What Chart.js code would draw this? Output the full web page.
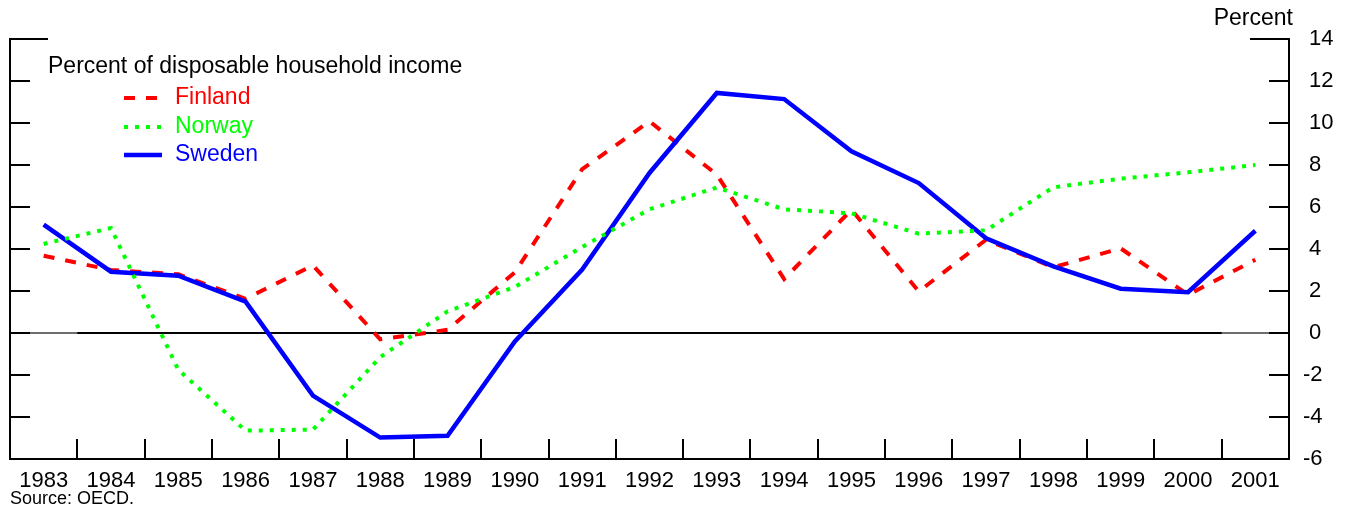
<!DOCTYPE html>
<html>
<head>
<meta charset="utf-8">
<script src="https://cdn.jsdelivr.net/npm/chart.js@4"></script>
<style>
    html, body { margin: 0; padding: 0; background: #fff; }
    #wrap { width: 1352px; height: 511px; }
</style>
</head>
<body>
<div id="wrap"><canvas id="savingChart" width="1352" height="511"></canvas></div>
<script>
// Household saving rates, percent of disposable income
const years = ['1983', '1984', '1985', '1986', '1987', '1988', '1989', '1990', '1991', '1992',
               '1993', '1994', '1995', '1996', '1997', '1998', '1999', '2000', '2001'];
const finland = [3.68, 3.0, 2.8, 1.63, 3.22, -0.3, 0.15, 2.89, 7.8, 10.08,
                 7.54, 2.57, 5.87, 1.98, 4.44, 3.13, 4.03, 1.82, 3.49];
const norway = [4.24, 5.0, -1.75, -4.65, -4.6, -1.15, 1.03, 2.19, 4.1, 5.89,
                6.93, 5.89, 5.7, 4.73, 4.89, 6.94, 7.35, 7.65, 8.0];
const sweden = [5.16, 2.92, 2.73, 1.49, -2.98, -4.98, -4.89, -0.4, 3.02, 7.62,
                11.43, 11.14, 8.65, 7.14, 4.51, 3.17, 2.11, 1.94, 4.87];
const yMin = -6;
const yMax = 14;
const yStep = 2;

const FONT = '"Liberation Sans", Arial, sans-serif';

// Frame, inward tick marks, zero line and the free text
const framePlugin = {
    id: 'frame',
    beforeDatasetsDraw(chart) {
        const { ctx, chartArea: a, scales } = chart;
        const y = scales.y;
        const step = (a.right - a.left) / years.length;
        const zero = Math.round(y.getPixelForValue(0));
        ctx.save();
        ctx.lineWidth = 2;
        // zero line, greyer at both ends
        ctx.strokeStyle = '#6e6e6e';
        ctx.beginPath();
        ctx.moveTo(a.left, zero);
        ctx.lineTo(a.right, zero);
        ctx.stroke();
        ctx.strokeStyle = '#000';
        ctx.beginPath();
        ctx.moveTo(a.left + step, zero);
        ctx.lineTo(a.right - step, zero);
        ctx.stroke();
        ctx.restore();
    },
    afterDatasetsDraw(chart) {
        const { ctx, chartArea: a, scales } = chart;
        const y = scales.y;
        const step = (a.right - a.left) / years.length;
        const tick = 19;
        ctx.save();
        ctx.strokeStyle = '#000';
        ctx.lineWidth = 2;
        ctx.lineCap = 'square';
        ctx.beginPath();
        // sides and bottom
        ctx.moveTo(a.left, a.top);
        ctx.lineTo(a.left, a.bottom);
        ctx.lineTo(a.right, a.bottom);
        ctx.lineTo(a.right, a.top);
        // short top stubs
        ctx.moveTo(a.left, a.top);
        ctx.lineTo(a.left + 37, a.top);
        ctx.moveTo(a.right, a.top);
        ctx.lineTo(a.right - 38, a.top);
        // y ticks pointing inward on both sides
        for (let v = yMin; v <= yMax; v += yStep) {
            const py = Math.round(y.getPixelForValue(v));
            ctx.moveTo(a.left, py);
            ctx.lineTo(a.left + tick, py);
            ctx.moveTo(a.right, py);
            ctx.lineTo(a.right - tick, py);
        }
        // x ticks between the years
        for (let i = 1; i < years.length; i++) {
            const px = Math.round(a.left + step * i);
            ctx.moveTo(px, a.bottom);
            ctx.lineTo(px, a.bottom - tick);
        }
        ctx.stroke();

        ctx.fillStyle = '#000';
        ctx.font = '23px ' + FONT;
        ctx.textBaseline = 'middle';
        ctx.textAlign = 'right';
        ctx.fillText('Percent', 1293, 19);
        ctx.textAlign = 'left';
        ctx.font = '18px ' + FONT;
        ctx.fillText('Source: OECD.', 10, 499);

        // legend
        ctx.font = '23px ' + FONT;
        ctx.fillText('Percent of disposable household income', 48, 67);
        const rows = [98, 127, 155];
        chart.data.datasets.forEach((ds, i) => {
            const ry = rows[i];
            ctx.strokeStyle = ds.borderColor;
            ctx.lineWidth = ds.borderWidth;
            ctx.lineCap = 'butt';
            ctx.setLineDash(ds.borderDash || []);
            ctx.beginPath();
            ctx.moveTo(124, ry);
            ctx.lineTo(162, ry);
            ctx.stroke();
            ctx.setLineDash([]);
            ctx.fillStyle = ds.borderColor;
            ctx.fillText(ds.label, 175, ry);
        });
        ctx.restore();
    }
};

const ctx = document.getElementById('savingChart').getContext('2d');
new Chart(ctx, {
    type: 'line',
    data: {
        labels: years,
        datasets: [
            {
                label: 'Finland',
                data: finland,
                borderColor: '#ff0000',
                borderWidth: 4,
                borderDash: [11, 11],
                order: 2
            },
            {
                label: 'Norway',
                data: norway,
                borderColor: '#00ff00',
                borderWidth: 4,
                borderDash: [4, 7],
                order: 0
            },
            {
                label: 'Sweden',
                data: sweden,
                borderColor: '#0000ff',
                borderWidth: 4.5,
                order: 1
            }
        ]
    },
    options: {
        responsive: false,
        animation: false,
        devicePixelRatio: 1,
        layout: { padding: { left: 10, top: 39, right: 0, bottom: 0 } },
        elements: {
            point: { radius: 0 },
            line: { tension: 0, fill: false, borderCapStyle: 'butt' }
        },
        plugins: {
            legend: { display: false },
            tooltip: { enabled: false }
        },
        scales: {
            x: {
                type: 'category',
                offset: true,
                grid: { display: false, drawTicks: false, tickLength: 0 },
                border: { display: false },
                ticks: {
                    color: '#000',
                    font: { family: FONT, size: 22 },
                    maxRotation: 0,
                    autoSkip: false,
                    padding: 9
                },
                afterFit(scale) { scale.height = 52; }
            },
            y: {
                position: 'right',
                min: yMin,
                max: yMax,
                grid: { display: false, drawTicks: false, tickLength: 0 },
                border: { display: false },
                ticks: {
                    stepSize: yStep,
                    color: '#000',
                    font: { family: FONT, size: 22 },
                    padding: 14,
                    callback: (v) => (v < 0 ? String(v) : ' ' + v)
                },
                afterFit(scale) { scale.width = 63; }
            }
        }
    },
    plugins: [framePlugin]
});
</script>
</body>
</html>
